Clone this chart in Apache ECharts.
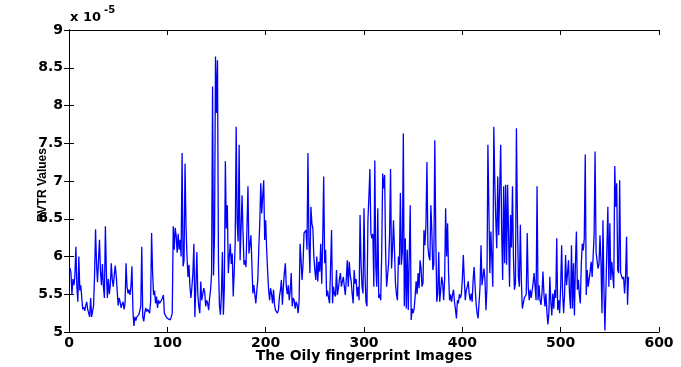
<!DOCTYPE html>
<html>
<head>
<meta charset="utf-8">
<script src="https://cdn.jsdelivr.net/npm/echarts@6/dist/echarts.min.js"></script>
<style>
html, body { margin: 0; padding: 0; background: #ffffff; }
#chart { width: 681px; height: 367px; }
</style>
</head>
<body>
<div id="chart"></div>
<script>
// RVTR value of every oily fingerprint image, in units of 1e-5, in image order.
const rvtrImages001to060 = [
  5.85, 5.78, 5.5, 5.7, 5.62, 5.75, 6.13, 5.6, 5.4, 6.0,
  5.55, 5.62, 5.45, 5.3, 5.33, 5.28, 5.35, 5.4, 5.3, 5.28,
  5.2, 5.45, 5.2, 5.22, 5.35, 5.75, 6.36, 5.9, 5.66, 5.95,
  6.22, 5.8, 5.62, 5.9, 5.6, 5.45, 6.4, 5.8, 5.45, 5.7,
  5.5, 5.62, 5.91, 5.7, 5.6, 5.75, 5.88, 5.75, 5.55, 5.35,
  5.45, 5.4, 5.32, 5.37, 5.4, 5.3, 5.38, 5.91, 5.6, 5.51
];
const rvtrImages061to118 = [
  5.56, 5.49, 5.6, 5.87, 5.29, 5.08, 5.2, 5.15, 5.2, 5.18,
  5.23, 5.28, 5.34, 6.13, 5.2, 5.14, 5.25, 5.32, 5.27, 5.3,
  5.32, 5.25, 5.4, 6.31, 5.8, 5.49, 5.55, 5.38, 5.47, 5.32,
  5.42, 5.38, 5.36, 5.42, 5.45, 5.49, 5.25, 5.22, 5.2, 5.18,
  5.18, 5.17, 5.16, 5.2, 5.25, 6.4, 6.09, 6.38, 6.27, 6.05,
  6.3, 6.09, 6.22, 6.0, 7.37, 5.87, 5.95, 7.23
];
const rvtrImages119to175 = [
  6.4, 6.0, 5.73, 5.89, 5.6, 5.45, 5.6, 5.78, 6.17, 5.2,
  5.6, 6.06, 5.5, 5.34, 5.25, 5.67, 5.42, 5.5, 5.58, 5.53,
  5.34, 5.42, 5.38, 5.29, 5.45, 5.56, 5.78, 8.25, 5.75, 6.3,
  8.65, 7.9, 8.6, 5.9, 5.35, 5.23, 5.5, 6.06, 5.23, 5.6,
  7.26, 6.37, 6.68, 5.78, 6.0, 6.17, 5.9, 6.04, 5.47, 5.8,
  6.17, 7.72, 6.46, 6.2, 7.48, 5.95, 5.93
];
const rvtrImages176to236 = [
  6.81, 6.3, 5.89, 5.95, 5.86, 6.4, 6.93, 6.04, 6.06, 6.28,
  5.9, 5.51, 5.62, 5.5, 5.38, 5.55, 5.69, 6.1, 6.44, 6.97,
  6.57, 6.8, 7.01, 6.22, 6.48, 6.09, 5.8, 5.56, 5.42, 5.58,
  5.5, 5.38, 5.56, 5.36, 5.29, 5.3, 5.25, 5.29, 5.47, 5.55,
  5.69, 5.36, 5.6, 5.78, 5.91, 5.6, 5.5, 5.62, 5.42, 5.55,
  5.78, 5.34, 5.45, 5.42, 5.31, 5.4, 5.36, 5.25, 5.4, 6.17,
  5.95
];
const rvtrImages237to290 = [
  5.69, 5.9, 6.31, 6.33, 6.35, 6.09, 7.37, 6.2, 5.78, 6.66,
  6.44, 6.37, 6.0, 5.82, 5.69, 6.0, 5.67, 5.93, 5.8, 6.17,
  5.64, 6.2, 7.06, 5.91, 6.09, 5.47, 5.55, 5.45, 5.38, 5.4,
  6.35, 5.38, 5.6, 5.5, 5.47, 5.82, 5.49, 5.58, 5.7, 5.78,
  5.6, 5.62, 5.73, 5.6, 5.49, 5.7, 5.95, 5.6, 5.93, 5.75,
  5.67, 5.5, 5.38, 5.82
];
const rvtrImages291to352 = [
  5.64, 5.7, 5.47, 5.6, 5.42, 6.55, 5.9, 5.6, 5.51, 6.64,
  5.78, 5.4, 5.34, 6.48, 6.8, 7.16, 6.31, 6.24, 6.3, 5.6,
  7.27, 5.86, 5.6, 6.64, 5.45, 5.5, 5.42, 6.04, 7.1, 6.9,
  7.08, 6.04, 5.6, 5.62, 5.9, 6.28, 7.16, 5.84, 6.1, 6.48,
  6.09, 5.64, 5.5, 5.42, 6.0, 5.89, 6.84, 5.89, 6.06, 7.63,
  5.34, 6.24, 5.31, 6.09, 5.29, 5.3, 6.68, 5.16, 5.31, 5.25,
  5.31, 5.47
];
const rvtrImages353to408 = [
  5.67, 5.5, 5.78, 5.58, 5.95, 5.85, 5.6, 5.65, 6.35, 6.15,
  6.42, 7.25, 6.13, 6.0, 5.95, 6.68, 6.33, 5.82, 5.9, 7.54,
  6.26, 5.4, 5.51, 6.06, 5.4, 5.55, 5.73, 5.65, 5.42, 5.69,
  6.64, 6.0, 6.44, 5.78, 5.42, 5.5, 5.4, 5.49, 5.56, 5.4,
  5.3, 5.18, 5.42, 5.38, 5.5, 5.45, 5.5, 5.7, 6.02, 5.69,
  5.42, 5.55, 5.6, 5.67, 5.5, 5.42
];
const rvtrImages409to468 = [
  5.51, 5.4, 5.7, 5.86, 5.6, 5.38, 5.25, 5.18, 5.38, 5.6,
  6.15, 5.62, 5.6, 5.84, 5.7, 5.29, 5.58, 7.48, 7.46, 5.78,
  6.33, 6.35, 5.6, 7.72, 6.99, 6.5, 6.11, 7.06, 6.28, 6.9,
  7.48, 6.33, 5.69, 6.93, 5.91, 6.95, 5.89, 6.95, 6.31, 5.6,
  6.55, 6.12, 6.93, 5.98, 5.56, 5.64, 7.7, 6.53, 5.73, 5.6,
  6.42, 5.69, 5.31, 5.33, 5.45, 5.45, 5.5, 6.31, 5.6, 5.42
];
const rvtrImages469to525 = [
  5.56, 5.45, 5.55, 5.65, 5.78, 5.76, 5.42, 6.93, 5.42, 5.62,
  5.42, 5.36, 5.51, 5.8, 5.5, 5.34, 5.51, 5.27, 5.1, 5.25,
  5.73, 5.4, 5.22, 5.51, 5.31, 5.56, 5.45, 6.24, 5.29, 5.42,
  5.25, 5.6, 6.15, 5.51, 5.25, 5.5, 6.02, 5.62, 5.64, 5.95,
  5.5, 5.31, 6.15, 5.31, 5.91, 5.22, 5.91, 6.33, 5.56, 5.69,
  5.5, 5.38, 5.91, 6.17, 6.08, 6.24, 7.35
];
const rvtrImages526to569 = [
  5.49, 5.82, 5.6, 5.7, 5.8, 5.93, 5.73, 6.0, 6.28, 7.39,
  6.06, 6.05, 5.84, 5.9, 6.28, 5.91, 5.25, 6.48, 5.56, 5.02,
  5.56, 5.54, 6.66, 5.6, 6.44, 5.69, 5.93, 5.91, 5.58, 7.2,
  6.66, 6.97, 5.82, 5.78, 7.01, 5.78, 5.76, 5.7, 5.73, 5.51,
  5.73, 6.26, 5.36, 5.73
];

// Axis ranges and texts
const xRange = [0, 600];
const xStep = 100;
const yRange = [5, 9];
const yStep = 0.5;
const xTitle = 'The Oily fingerprint Images';
const yTitle = 'RVTR Values';
const scaleBase = 'x 10';
const scaleExponent = '-5';

const rvtrValues = [].concat(
  rvtrImages001to060, rvtrImages061to118, rvtrImages119to175,
  rvtrImages176to236, rvtrImages237to290, rvtrImages291to352,
  rvtrImages353to408, rvtrImages409to468, rvtrImages469to525,
  rvtrImages526to569
);
const seriesData = rvtrValues.map((v, i) => [i + 1, v]);

const labelFont = {
  color: '#000', fontFamily: 'DejaVu Sans', fontWeight: 'bold', fontSize: 14
};
const frameLine = { show: true, lineStyle: { color: '#000', width: 1 } };
const innerTick = { show: true, inside: true, length: 5, lineStyle: { color: '#000', width: 1 } };

const chart = echarts.init(document.getElementById('chart'), null, { renderer: 'canvas' });
chart.setOption({
  animation: false,
  backgroundColor: '#ffffff',
  grid: {
    left: 69, right: 22, top: 30, bottom: 35,
    containLabel: false, outerBoundsMode: 'none'
  },
  xAxis: [
    {
      type: 'value', position: 'bottom',
      min: xRange[0], max: xRange[1], interval: xStep,
      axisLine: frameLine, axisTick: innerTick,
      axisLabel: Object.assign({ margin: 4 }, labelFont),
      splitLine: { show: false },
      name: xTitle, nameLocation: 'middle', nameGap: 17, nameMoveOverlap: false,
      nameTextStyle: { color: '#000', fontFamily: 'DejaVu Sans', fontWeight: 'bold', fontSize: 14 }
    },
    {
      type: 'value', position: 'top',
      min: xRange[0], max: xRange[1], interval: xStep,
      axisLine: frameLine, axisTick: innerTick,
      axisLabel: { show: false }, splitLine: { show: false }
    }
  ],
  yAxis: [
    {
      type: 'value', position: 'left',
      min: yRange[0], max: yRange[1], interval: yStep,
      axisLine: frameLine, axisTick: innerTick,
      axisLabel: Object.assign({ margin: 6 }, labelFont),
      splitLine: { show: false },
      name: yTitle, nameLocation: 'middle', nameGap: 20, nameRotate: 90, nameMoveOverlap: false,
      nameTextStyle: {
        color: '#000', fontFamily: 'Liberation Sans', fontWeight: 'bold', fontSize: 12,
        padding: [0, 8, 0, 0]
      }
    },
    {
      type: 'value', position: 'right',
      min: yRange[0], max: yRange[1], interval: yStep,
      axisLine: frameLine, axisTick: innerTick,
      axisLabel: { show: false }, splitLine: { show: false }
    }
  ],
  graphic: [
    {
      type: 'text', left: 70, top: 11,
      style: { text: scaleBase, fill: '#000', font: 'bold 13px "DejaVu Sans"' }
    },
    {
      type: 'text', left: 104, top: 5,
      style: { text: scaleExponent, fill: '#000', font: 'bold 10px "DejaVu Sans"' }
    }
  ],
  series: [
    {
      type: 'line',
      xAxisIndex: 0, yAxisIndex: 0,
      data: seriesData,
      showSymbol: false,
      symbol: 'none',
      lineStyle: { color: '#0000ff', width: 1.3 },
      emphasis: { disabled: true }
    }
  ]
});
</script>
</body>
</html>
